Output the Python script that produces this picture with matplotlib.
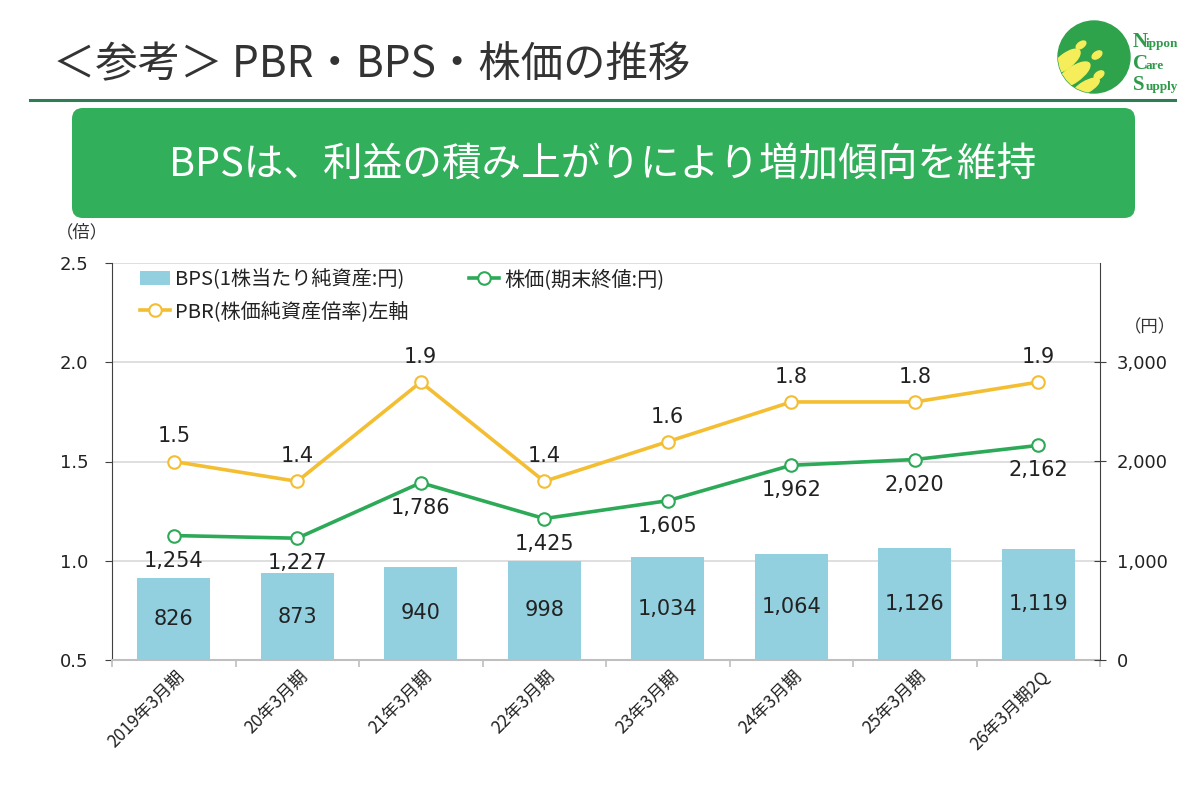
import matplotlib
matplotlib.use("Agg")
import matplotlib.pyplot as plt
from matplotlib.patches import FancyBboxPatch, Circle, Ellipse, Rectangle
from matplotlib.lines import Line2D
from matplotlib.ticker import FuncFormatter, FixedLocator
import matplotlib.transforms as mtransforms
import numpy as np

plt.rcParams['font.family'] = ['Noto Sans CJK JP', 'DejaVu Sans']

# ---- data ----
categories = ["2019年3月期", "20年3月期", "21年3月期", "22年3月期",
              "23年3月期", "24年3月期", "25年3月期", "26年3月期2Q"]
bps = [826, 873, 940, 998, 1034, 1064, 1126, 1119]
stock_price = [1254, 1227, 1786, 1425, 1605, 1962, 2020, 2162]
pbr = [1.5, 1.4, 1.9, 1.4, 1.6, 1.8, 1.8, 1.9]
left_ticks = [0.5, 1.0, 1.5, 2.0, 2.5]
right_ticks = [0, 1000, 2000, 3000]

title_text = "＜参考＞ PBR・BPS・株価の推移"
banner_text = "BPSは、利益の積み上がりにより増加傾向を維持"
legend_labels = ["BPS(1株当たり純資産:円)", "株価(期末終値:円)", "PBR(株価純資産倍率)左軸"]

# ---- colors ----
c_bar = "#92CFDF"
c_green = "#2DAA57"
c_yellow = "#F4BE32"
c_text = "#222222"
num_font = ['DejaVu Sans', 'Noto Sans CJK JP']

W, H = 1200, 806
fig = plt.figure(figsize=(W / 100, H / 100), dpi=100)

def fx(px):
    return px / W

def fy(py):
    return 1 - py / H

# ---- header ----
fig.text(fx(53), fy(65), title_text, fontsize=30.5, color="#333333",
         ha="left", va="center")
fig.add_artist(Line2D([fx(30), fx(1175)], [fy(100), fy(100)],
                      color="#2E7D55", lw=2.2, transform=fig.transFigure))
box = FancyBboxPatch((fx(72), fy(218)), fx(1135) - fx(72), fy(108) - fy(218),
                     boxstyle="round,pad=0,rounding_size=0.009",
                     transform=fig.transFigure, facecolor="#31AF5A",
                     edgecolor="none", mutation_aspect=W / H)
fig.add_artist(box)
fig.text(fx(603), fy(165), banner_text, fontsize=28.5, color="white",
         ha="center", va="center")

# ---- logo ----
logo_ax = fig.add_axes([fx(1040), fy(110), fx(160), fy(10) - fy(110)])
logo_ax.set_xlim(1040, 1200)
logo_ax.set_ylim(110, 10)
logo_ax.set_aspect("equal")
logo_ax.axis("off")
circ = Circle((1094, 57), 36, color="#2FA24C")
logo_ax.add_patch(circ)
for (cx, cy, w, h, ang) in [(1081, 45, 11, 6, 35), (1097, 55, 11, 6.5, 35),
                            (1099, 75, 11, 6.5, 35), (1066, 61, 34, 14, 38),
                            (1073, 75, 40, 15, 35), (1086, 87, 30, 11, 30)]:
    e = Ellipse((cx, cy), w, h, angle=-ang, color="#F5EE5A")
    logo_ax.add_patch(e)
    e.set_clip_path(circ)
for (big, small, yy) in [("N", "ippon", 47), ("C", "are", 69), ("S", "upply", 90)]:
    logo_ax.text(1133, yy, big, fontsize=15, color="#2E9A4A", family="Liberation Serif",
                 fontweight="bold", ha="left", va="baseline")
    logo_ax.text(1146, yy, small, fontsize=9.5, color="#2E9A4A", family="Liberation Serif",
                 fontweight="bold", ha="left", va="baseline")

# ---- chart ----
ax = fig.add_axes([fx(112), fy(660), fx(1100) - fx(112), fy(263) - fy(660)])
ax2 = ax.twinx()
x = np.arange(len(categories))

ax.set_xlim(-0.5, len(categories) - 0.5)
ax.set_ylim(0.5, 2.5)
ax2.set_ylim(0, 4000)

ax.set_yticks(left_ticks)
ax.yaxis.set_major_formatter(FuncFormatter(lambda v, p: f"{v:.1f}"))
ax2.set_yticks(right_ticks)
ax2.yaxis.set_major_formatter(FuncFormatter(lambda v, p: f"{int(v):,}"))

ax.grid(axis="y", color="#D9D9D9", lw=1.2)
ax.set_axisbelow(True)

ax2.bar(x, bps, width=0.59, color=c_bar, zorder=2)
ax.plot(x, pbr, color=c_yellow, lw=2.6, marker="o", ms=9,
        mfc="white", mec=c_yellow, mew=1.5, zorder=4)
ax2.plot(x, stock_price, color=c_green, lw=2.6, marker="o", ms=9,
         mfc="white", mec=c_green, mew=1.5, zorder=4)

for xi, v in zip(x, bps):
    ax2.text(xi, v / 2, f"{v:,}", ha="center", va="center", fontsize=15,
             color=c_text, zorder=5, family=num_font)
for xi, v in zip(x, stock_price):
    ax2.annotate(f"{v:,}", (xi, v), xytext=(0, -18), textcoords="offset points",
                 ha="center", va="center", fontsize=15, color=c_text, zorder=5,
                 family=num_font)
for xi, v in zip(x, pbr):
    ax.annotate(f"{v:.1f}", (xi, v), xytext=(0, 18), textcoords="offset points",
                ha="center", va="center", fontsize=15, color=c_text, zorder=5,
                family=num_font)

# spines
for a in (ax, ax2):
    a.spines["top"].set_visible(False)
ax.spines["bottom"].set_color("#BFBFBF")
ax.spines["bottom"].set_linewidth(1.5)
ax2.spines["bottom"].set_visible(False)
ax.spines["left"].set_color("#404040")
ax.spines["right"].set_visible(False)
ax2.spines["left"].set_visible(False)
ax2.spines["right"].set_color("#404040")

ax.tick_params(axis="y", labelsize=13, colors="#404040", labelcolor=c_text,
               length=5, direction="out", pad=12)
ax2.tick_params(axis="y", labelsize=13, colors="#404040", labelcolor=c_text,
                length=8, direction="inout", pad=8)
for lab in ax.get_yticklabels() + ax2.get_yticklabels():
    lab.set_family(num_font)

ax.set_xticks(x)
ax.set_xticklabels(categories, rotation=45, ha="right", rotation_mode="anchor",
                   fontsize=12.5, color=c_text)
ax.tick_params(axis="x", which="major", length=0, pad=5)
ax.xaxis.set_minor_locator(FixedLocator(np.arange(-0.5, len(categories), 1.0)))
ax.tick_params(axis="x", which="minor", length=5, color="#BFBFBF", width=1.2)
offset = mtransforms.ScaledTranslation(2 / 100, 0, fig.dpi_scale_trans)
for lab in ax.get_xticklabels():
    lab.set_transform(lab.get_transform() + offset)

# unit labels
fig.text(fx(82), fy(232), "（倍）", fontsize=12.5, color="#333333", ha="center", va="center")
fig.text(fx(1150), fy(327), "（円）", fontsize=12.5, color="#333333", ha="center", va="center")

# legend
h_bar = Rectangle((0, 0), 1, 1, facecolor=c_bar, edgecolor="none")
h_stock = Line2D([], [], color=c_green, lw=2.6, marker="o", ms=9, mfc="white", mec=c_green, mew=1.5)
h_pbr = Line2D([], [], color=c_yellow, lw=2.6, marker="o", ms=9, mfc="white", mec=c_yellow, mew=1.5)
leg = ax2.legend([h_bar, h_pbr, h_stock], [legend_labels[0], legend_labels[2], legend_labels[1]],
                 ncol=2, loc="upper left", bbox_to_anchor=(0.016, 1.015), frameon=False,
                 fontsize=14.5, handlelength=1.5, handletextpad=0.25, columnspacing=3.0,
                 labelspacing=0.55, borderaxespad=0.2)
for t in leg.get_texts():
    t.set_color(c_text)

fig.savefig("out.png", dpi=100)
